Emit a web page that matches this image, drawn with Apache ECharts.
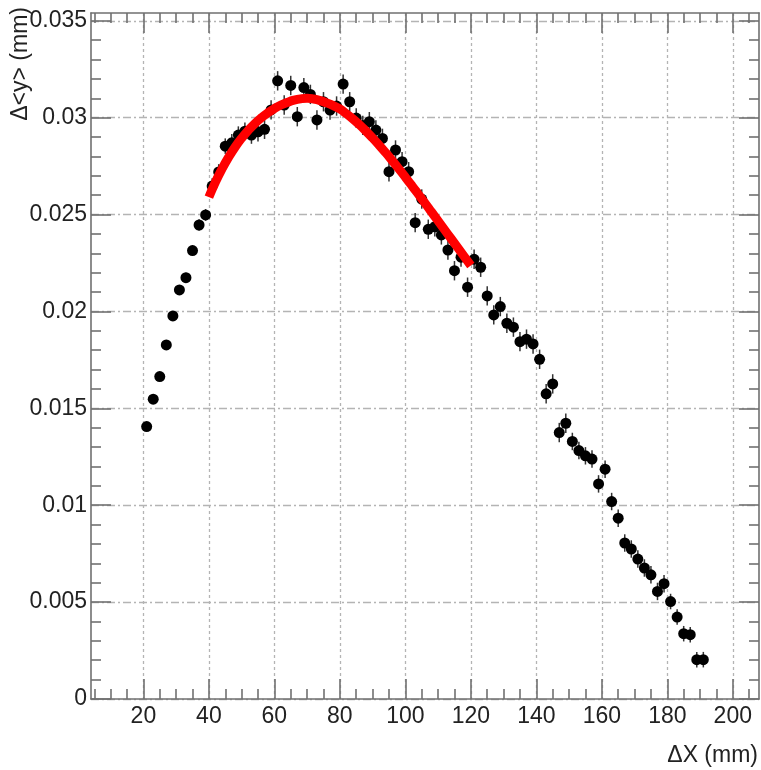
<!DOCTYPE html>
<html><head><meta charset="utf-8">
<script src="https://cdn.jsdelivr.net/npm/echarts@6/dist/echarts.min.js"></script>
<style>html,body{margin:0;padding:0;background:#fff}#c{width:761px;height:770px}</style>
</head><body><div id="c"></div>
<script>
const xValues = [21,23,25,27,29,31,33,35,37,39,41,43,45,47,49,51,53,55,57,59,61,63,65,67,69,71,73,75,77,79,81,83,85,87,89,91,93,95,97,99,101,103,105,107,109,111,113,115,117,119,121,123,125,127,129,131,133,135,137,139,141,143,145,147,149,151,153,155,157,159,161,163,165,167,169,171,173,175,177,179,181,183,185,187,189,191];
const yValues = [0.01406,0.01547,0.01664,0.01827,0.01977,0.02111,0.02174,0.02314,0.02446,0.02498,
0.02647,0.0272,0.02853,0.0287,0.0291,0.0293,0.0291,0.02927,0.0294,0.0304,
0.0319,0.03065,0.03166,0.03005,0.03155,0.0312,0.02988,0.03082,0.03039,0.0306,
0.03173,0.03082,0.02998,0.0296,0.02979,0.02936,0.02893,0.02721,0.02833,0.02773,
0.02721,0.02458,0.0258,0.02424,0.02437,0.02395,0.02317,0.0221,0.0228,0.02125,
0.02269,0.02228,0.0208,0.01982,0.02025,0.01939,0.01919,0.01844,0.01857,0.01832,
0.01753,0.01575,0.01626,0.01375,0.01423,0.01329,0.01282,0.01255,0.01238,0.0111,
0.01186,0.01019,0.00933,0.00805,0.00774,0.00722,0.00676,0.00641,0.00555,0.00595,
0.00503,0.00423,0.00337,0.00332,0.00203,0.00203];
const yErrors = [0.0002,0.0002,0.0002,0.0002,0.0002,0.00025,0.00025,0.00025,0.0003,0.0003,
0.0004,0.0004,0.0004,0.00045,0.00045,0.00045,0.00045,0.0005,0.0005,0.0005,
0.0005,0.0005,0.0005,0.0005,0.0005,0.0005,0.0005,0.0005,0.0005,0.0005,
0.0005,0.0005,0.0005,0.0005,0.0005,0.0005,0.0005,0.0005,0.0005,0.0005,
0.0005,0.0005,0.0005,0.0005,0.0005,0.0005,0.0005,0.0005,0.0005,0.0005,
0.0005,0.0005,0.0005,0.0005,0.0005,0.0005,0.0005,0.0005,0.0005,0.0005,
0.0005,0.0005,0.0005,0.0005,0.0005,0.00045,0.00045,0.00045,0.00045,0.00045,
0.00045,0.00045,0.00045,0.00045,0.00045,0.00045,0.00045,0.00045,0.00045,0.00045,
0.0004,0.0004,0.0004,0.0004,0.0004,0.0004];
const fitX = [40,42,44,46,48,50,52,54,56,58,60,62,64,66,68,70,72,74,76,78,80,82,84,86,88,90,92,94,96,98,100,102,104,106,108,110,112,114,116,118,120];
const fitY = [0.0259,0.02667,0.02735,0.02795,0.02848,0.02894,0.02934,0.02969,0.02999,0.03025,
0.03047,0.03065,0.03079,0.0309,0.03097,0.031,0.03096,0.03088,0.03076,0.03062,
0.03045,0.0302,0.02993,0.02963,0.0293,0.02895,0.02858,0.02819,0.02778,0.02736,
0.02693,0.02649,0.02604,0.02559,0.02513,0.02467,0.02421,0.02375,0.02329,0.02283,0.02237];
const xTickLabels = [20,40,60,80,100,120,140,160,180,200];
const xMinorTicks = [5,10,15,25,30,35,45,50,55,65,70,75,85,90,95,105,110,115,125,130,135,145,150,155,165,170,175,185,190,195,205];
const yTickLabels = [0,0.005,0.01,0.015,0.02,0.025,0.03,0.035];
const yMinorTicks = [0.001,0.002,0.003,0.004,0.006,0.007,0.008,0.009,0.011,0.012,0.013,0.014,0.016,0.017,0.018,0.019,0.021,0.022,0.023,0.024,0.026,0.027,0.028,0.029,0.031,0.032,0.033,0.034];
const xTitle = 'ΔX (mm)';
const yTitle = 'Δ<y> (mm)';

const FONT = "'Liberation Sans', Arial, sans-serif";
const FS = 23;
const frame = {color:'#707070', width:1.6};
const XMIN = 4, XMAX = 208, YMIN = 0, YMAX = 0.0354;

function xAx(pos, ticks, len, major){
  return {type:'value', min:XMIN, max:XMAX, position:pos,
    axisLine:{show:major, onZero:false, lineStyle:frame},
    axisTick:{show:true, inside:true, length:len, customValues:ticks, lineStyle:frame},
    axisLabel:{show:major && pos==='bottom', customValues:ticks, fontSize:FS, fontFamily:FONT, color:'#222', margin:6},
    splitLine:{show:major && pos==='bottom', lineStyle:{color:'#b4b4b4', width:1.3, type:[3,3]}}};
}
function yAx(pos, ticks, len, major){
  return {type:'value', min:YMIN, max:YMAX, position:pos,
    axisLine:{show:major, onZero:false, lineStyle:frame},
    axisTick:{show:true, inside:true, length:len, customValues:ticks, lineStyle:frame},
    axisLabel:{show:major && pos==='left', customValues:ticks, fontSize:FS, fontFamily:FONT, color:'#222', margin:4,
      formatter:function(v){return String(+(+v).toFixed(4));}},
    splitLine:{show:major && pos==='left', lineStyle:{color:'#b4b4b4', width:1.3, type:[8,3,2,3]}}};
}

const chart = echarts.init(document.getElementById('c'), null, {renderer:'canvas'});
chart.setOption({
  animation:false,
  backgroundColor:'#fff',
  grid:{left:91, right:2, top:13, bottom:71, containLabel:false},
  xAxis:[xAx('bottom', xTickLabels, 20, true), xAx('bottom', xMinorTicks, 10, false), xAx('top', xTickLabels, 20, true), xAx('top', xMinorTicks, 10, false)],
  yAxis:[yAx('left', yTickLabels, 20, true), yAx('left', yMinorTicks, 10, false), yAx('right', yTickLabels, 20, true), yAx('right', yMinorTicks, 10, false)],
  graphic:[
    {type:'text', right:3, top:744, style:{text:xTitle, font:FS+'px '+FONT, fill:'#222'}},
    {type:'text', x:9, y:7, rotation:Math.PI/2, style:{text:yTitle, font:FS+'px '+FONT, fill:'#222', align:'right', verticalAlign:'top'}}
  ],
  series:[
    {type:'custom', xAxisIndex:0, yAxisIndex:0, z:2,
      data:xValues.map((x,i)=>[x, yValues[i], yErrors[i]]),
      renderItem:function(params, api){
        const x = api.value(0), y = api.value(1), e = api.value(2);
        const p1 = api.coord([x, y-e]), p2 = api.coord([x, y+e]);
        return {type:'line', shape:{x1:p1[0], y1:p1[1], x2:p2[0], y2:p2[1]}, style:{stroke:'#333', lineWidth:1.5}};
      }},
    {type:'scatter', xAxisIndex:0, yAxisIndex:0, z:3, symbol:'circle', symbolSize:11,
      itemStyle:{color:'#000', opacity:1}, data:xValues.map((x,i)=>[x, yValues[i]])},
    {type:'line', xAxisIndex:0, yAxisIndex:0, z:4, smooth:true, showSymbol:false, symbol:'none',
      lineStyle:{color:'#ff0000', width:9, cap:'butt'}, data:fitX.map((x,i)=>[x, fitY[i]])}
  ]
});
</script>
</body></html>
